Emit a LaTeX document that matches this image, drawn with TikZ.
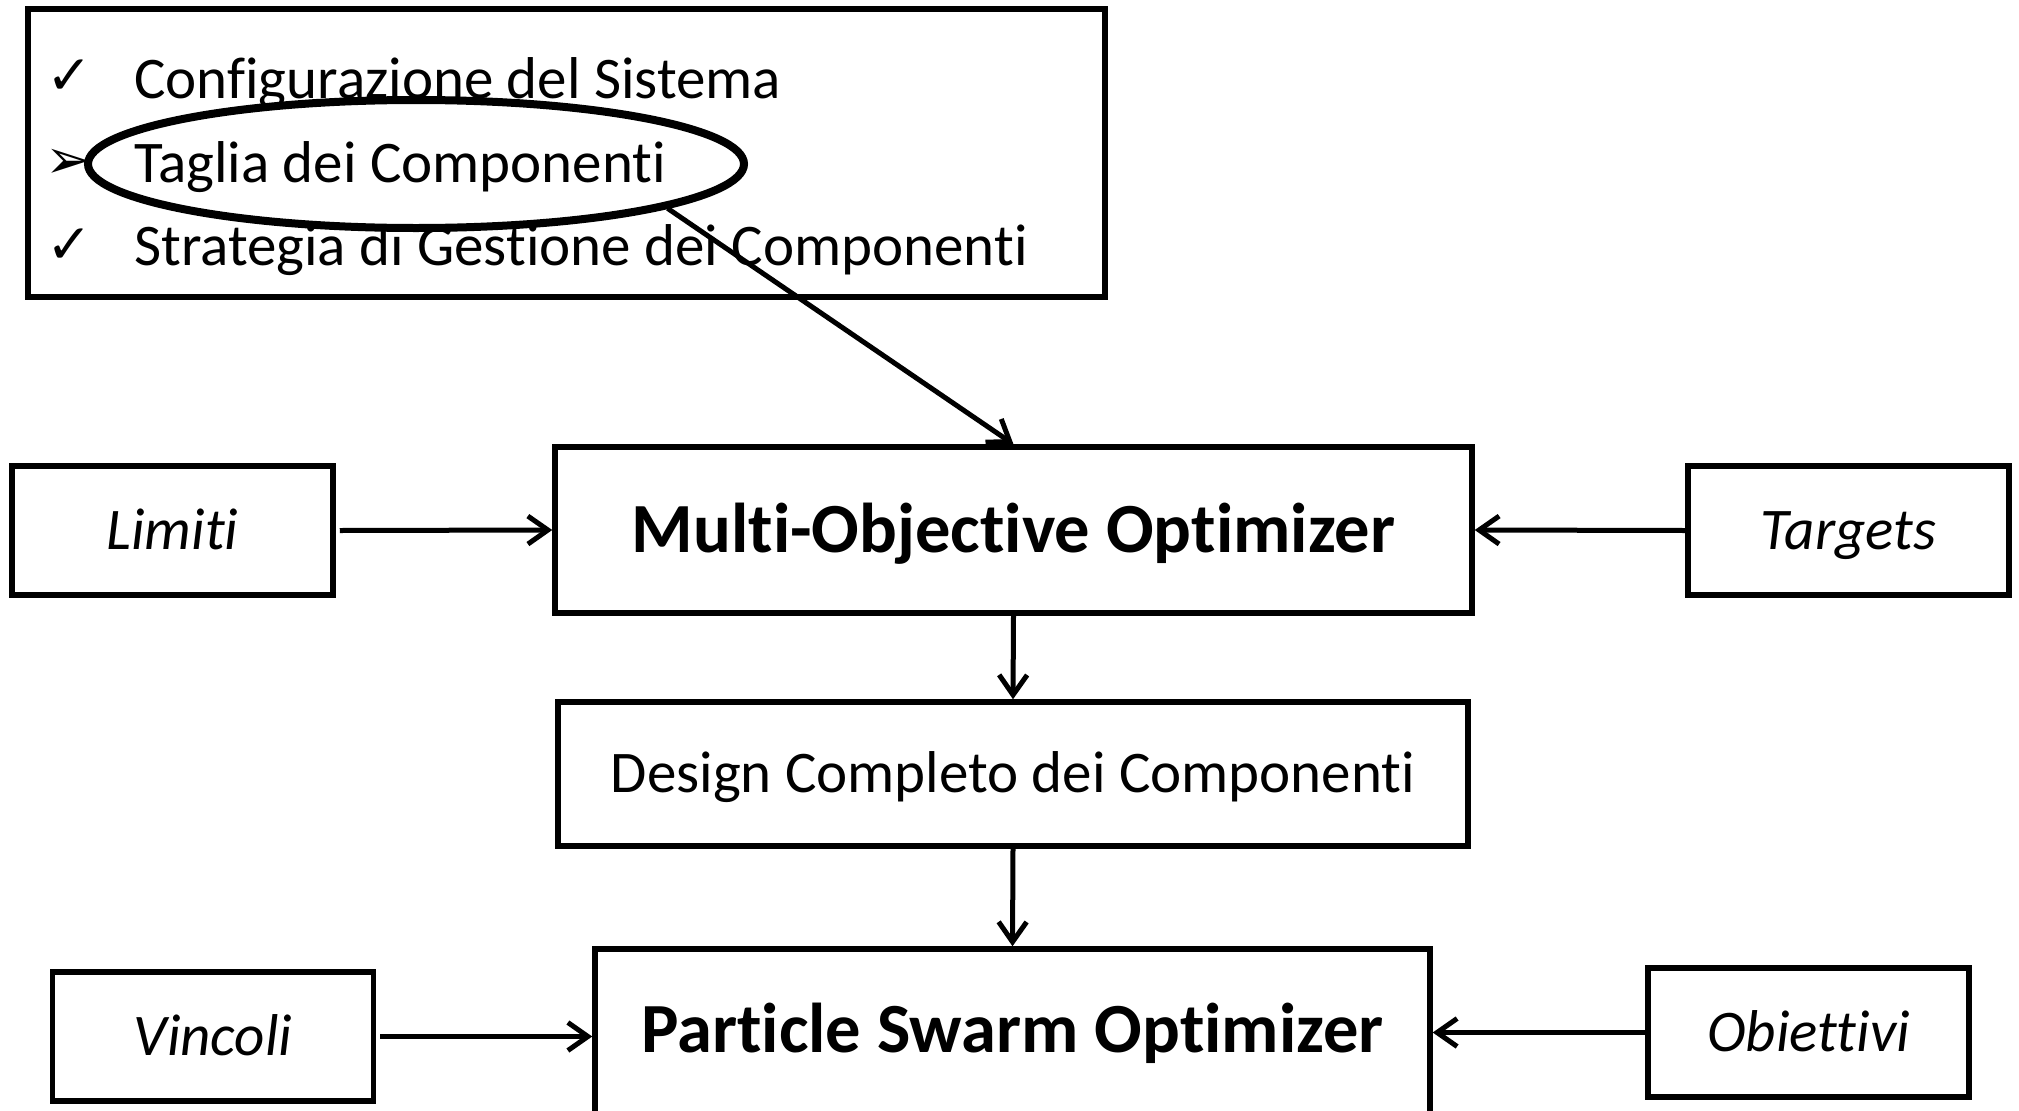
\documentclass[tikz,border=0pt]{standalone}
\usepackage{fontspec}
\setmainfont{Carlito}[Ligatures=NoCommon]
\newfontfamily\symfont{DejaVu Sans}
\usetikzlibrary{arrows.meta,shapes.geometric}
\begin{document}
\begin{tikzpicture}[x=1pt,y=-1pt,
  box/.style={draw, line width=5.5pt, inner sep=0pt, rectangle},
  arr/.style={line width=5pt, -{Straight Barb[length=20pt,width=28pt,line width=5pt]}},
  listtxt/.style={anchor=west, inner sep=0pt, text height=43pt, text depth=6pt, font=\fontsize{59}{68}\selectfont},
  bul/.style={inner sep=0pt, font=\symfont\fontsize{55}{62}\selectfont},
  side/.style={box, minimum width=321pt, minimum height=129pt, text height=43pt, text depth=6pt, font=\fontsize{59}{68}\selectfont\itshape},
  big/.style={text height=51pt, text depth=6pt, font=\fontsize{70.5}{80}\selectfont\bfseries}]
\useasboundingbox (0,0) rectangle (2019,1111);
\clip (0,0) rectangle (2019,1111);
% top box
\node[box, minimum width=1077pt, minimum height=288pt] (top) at (566.5,153) {};
\node[bul] (b1) at (70,77) {✓};
\node[bul] (b2) at (69,164) {➢};
\node[bul] (b3) at (70,246) {✓};
\node[listtxt] (t1) at (134,80) {Configurazione del Sistema};
\node[listtxt] (t2) at (134,164) {Taglia dei Componenti};
\node[listtxt] (t3) at (134,247) {Strategia di Gestione dei Componenti};
\node[ellipse, draw, line width=8pt, minimum width=656pt, minimum height=128pt, inner sep=0pt] (ell) at (416,164) {};
% main boxes
\node[box, minimum width=917pt, minimum height=166pt, big] (moo) at (1013.5,530) {Multi-Objective Optimizer};
\node[side] (lim) at (172.5,530.5) {Limiti};
\node[side] (tar) at (1848.5,530.5) {Targets};
\node[box, minimum width=910pt, minimum height=144pt, text height=43pt, text depth=6pt, font=\fontsize{59}{68}\selectfont] (des) at (1013,774) {Design Completo dei Componenti};
\node[box, minimum width=835pt, minimum height=300pt] (pso) at (1012.5,1099) {};
\node[big, inner sep=0pt] (psot) at (1012.5,1030) {Particle Swarm Optimizer};
\node[side] (vin) at (213,1036.5) {Vincoli};
\node[side] (obi) at (1808.5,1032.5) {Obiettivi};
% connectors
\draw[arr] (ell.-10) -- (moo.north);
\draw[arr] ([xshift=4pt]lim.east) -- (moo.west);
\draw[arr] (tar.west) -- (moo.east);
\draw[arr] (moo.south) -- (des.north);
\draw[arr] (des.south) -- (pso.north);
\draw[arr] ([xshift=4pt]vin.east) -- (vin.east -| pso.west);
\draw[arr] (obi.west) -- (obi.west -| pso.east);
\end{tikzpicture}
\end{document}
